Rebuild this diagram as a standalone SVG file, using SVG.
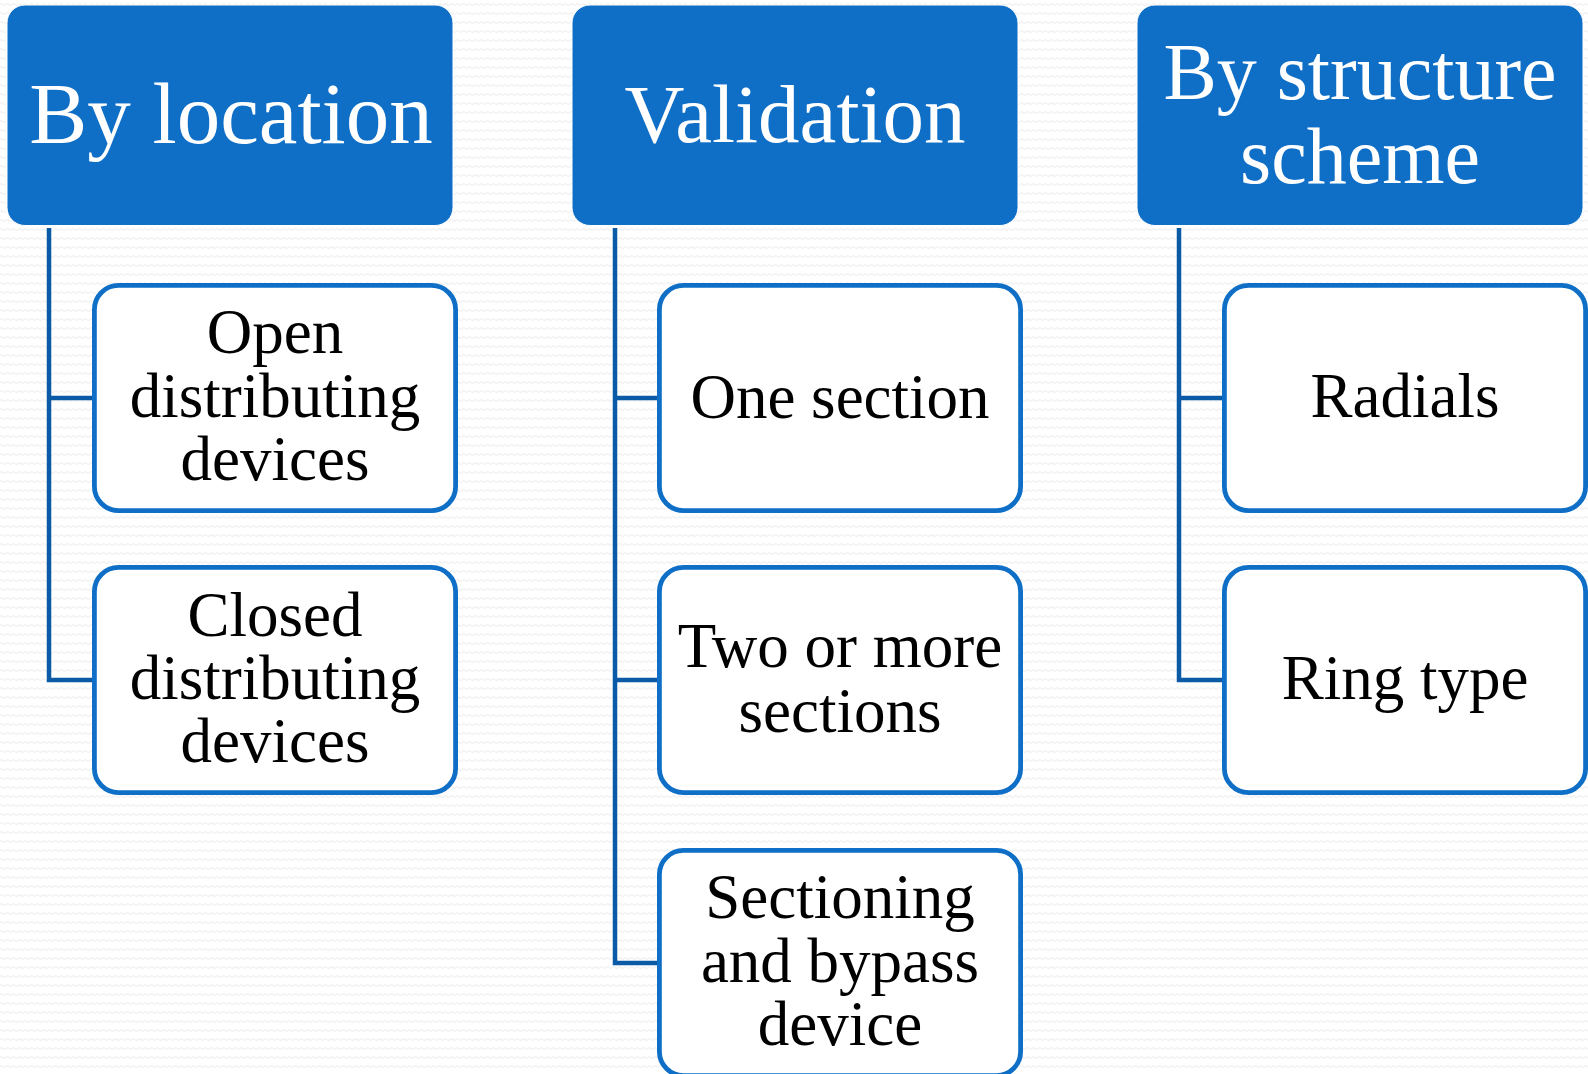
<svg xmlns="http://www.w3.org/2000/svg" width="1588" height="1074" viewBox="0 0 1588 1074">
  <defs>
    <pattern id="bg" width="6" height="9" patternUnits="userSpaceOnUse">
      <rect width="6" height="9" fill="#ffffff"/>
      <path d="M0 4.5 Q1.5 3 3 4.5 T6 4.5" fill="none" stroke="#f2f2f2" stroke-width="1.4"/>
    </pattern>
    <style>
      .hdr { fill: #0f6fc6; stroke: #ffffff; stroke-width: 1; }
      .hdrtxt { fill: #ffffff; font-family: "Liberation Serif", "Times New Roman", serif; text-anchor: middle; }
      .child { fill: #ffffff; stroke: #0f6fc6; stroke-width: 4.8; }
      .ctxt { fill: #000000; font-family: "Liberation Serif", "Times New Roman", serif; font-size: 63px; text-anchor: middle; }
      .conn { fill: none; stroke: #0b5aa6; stroke-width: 4.5; stroke-linejoin: miter; }
    </style>
  </defs>
  <rect width="1588" height="1074" fill="url(#bg)"/>

  <g id="connectors">
    <path class="conn" d="M49 228 V680 H94 M49 398 H94"/>
    <path class="conn" d="M615 228 V963 H659 M615 398 H659 M615 680 H659"/>
    <path class="conn" d="M1179 228 V680 H1224 M1179 398 H1224"/>
  </g>

  <g id="h-location">
    <rect class="hdr" x="7" y="5" width="446" height="220.5" rx="18"/>
    <text class="hdrtxt" x="231" y="143" font-size="87">By location</text>
  </g>
  <g id="h-validation">
    <rect class="hdr" x="572" y="5" width="446" height="220.5" rx="18"/>
    <text class="hdrtxt" x="795" y="142" font-size="83">Validation</text>
  </g>
  <g id="h-structure">
    <rect class="hdr" x="1137" y="5" width="446" height="220.5" rx="18"/>
    <text class="hdrtxt" x="1360" y="99" font-size="80">By structure</text>
    <text class="hdrtxt" x="1360" y="183" font-size="80">scheme</text>
  </g>

  <g id="open">
    <rect class="child" x="94.4" y="285.4" width="361.2" height="225.2" rx="24"/>
    <text class="ctxt" x="275" y="353">Open</text>
    <text class="ctxt" x="275" y="417">distributing</text>
    <text class="ctxt" x="275" y="480">devices</text>
  </g>
  <g id="closed">
    <rect class="child" x="94.4" y="567.4" width="361.2" height="225.2" rx="24"/>
    <text class="ctxt" x="275" y="636">Closed</text>
    <text class="ctxt" x="275" y="699">distributing</text>
    <text class="ctxt" x="275" y="762">devices</text>
  </g>

  <g id="one-section">
    <rect class="child" x="659.4" y="285.4" width="361.2" height="225.2" rx="24"/>
    <text class="ctxt" x="840" y="418">One section</text>
  </g>
  <g id="two-sections">
    <rect class="child" x="659.4" y="567.4" width="361.2" height="225.2" rx="24"/>
    <text class="ctxt" x="840" y="667">Two or more</text>
    <text class="ctxt" x="840" y="732">sections</text>
  </g>
  <g id="sectioning">
    <rect class="child" x="659.4" y="850.4" width="361.2" height="225.2" rx="24"/>
    <text class="ctxt" x="840" y="918">Sectioning</text>
    <text class="ctxt" x="840" y="982">and bypass</text>
    <text class="ctxt" x="840" y="1045">device</text>
  </g>

  <g id="radials">
    <rect class="child" x="1224.4" y="285.4" width="361.2" height="225.2" rx="24"/>
    <text class="ctxt" x="1405" y="417">Radials</text>
  </g>
  <g id="ring">
    <rect class="child" x="1224.4" y="567.4" width="361.2" height="225.2" rx="24"/>
    <text class="ctxt" x="1405" y="699">Ring type</text>
  </g>
</svg>
